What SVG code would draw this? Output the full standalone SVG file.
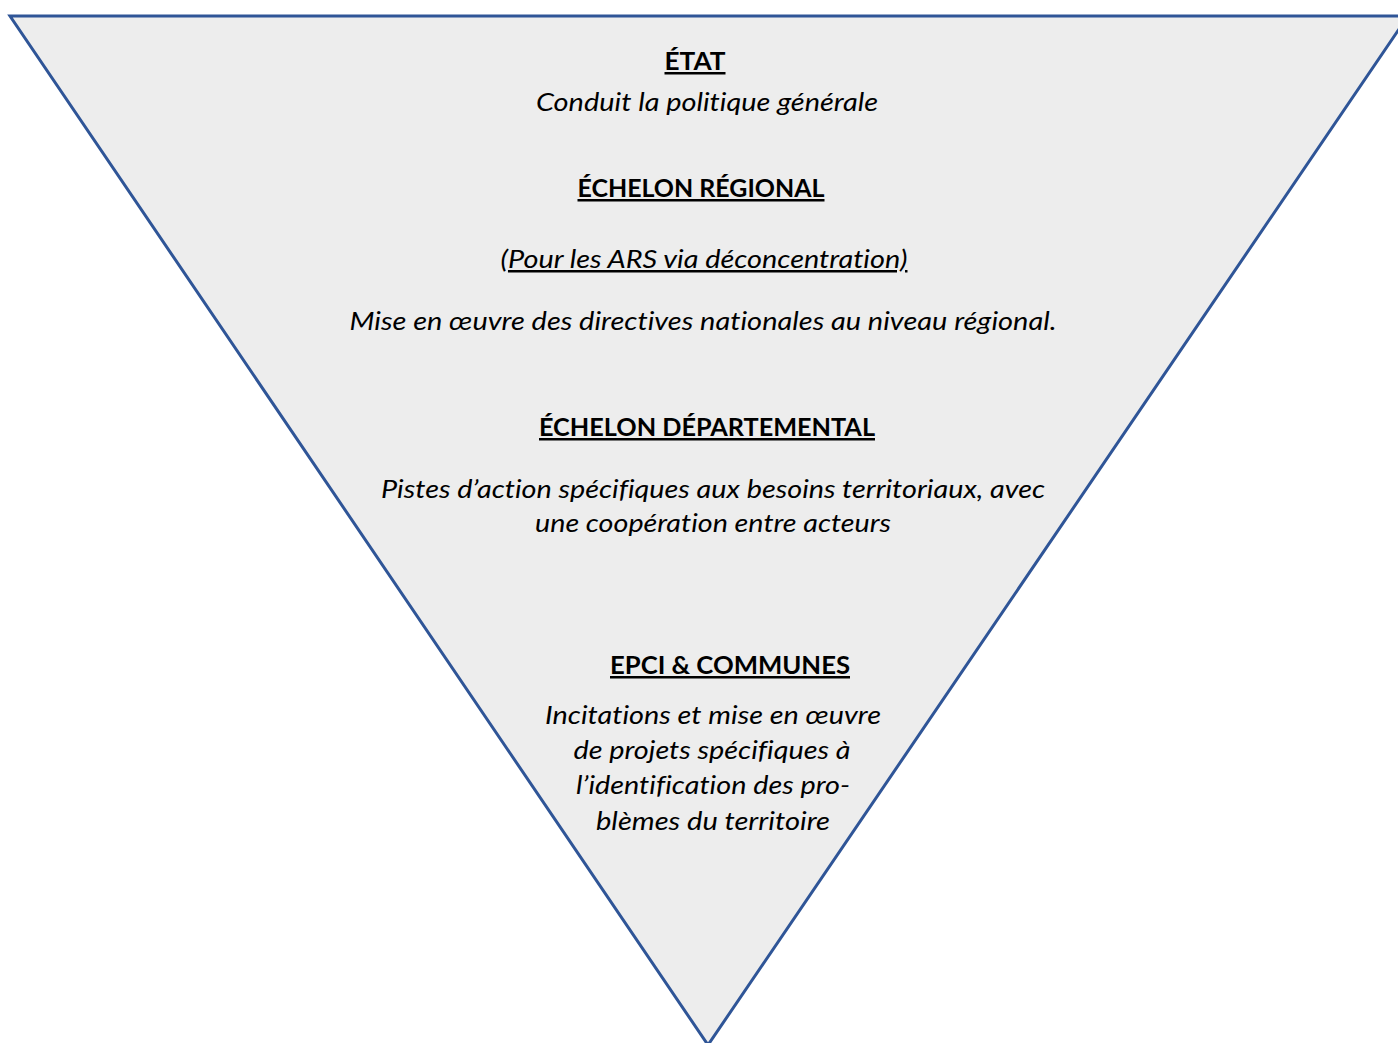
<svg xmlns="http://www.w3.org/2000/svg" width="1398" height="1043" viewBox="0 0 1398 1043">
<style>
.h{font-family:Lato,"Open Sans","Liberation Sans",sans-serif;font-weight:bold;font-size:25px;fill:#000;text-decoration:underline;font-variant-ligatures:none;font-feature-settings:"liga" 0,"clig" 0,"dlig" 0}
.t{font-family:Lato,"Open Sans","Liberation Sans",sans-serif;font-style:italic;font-size:25px;fill:#000;font-variant-ligatures:none;font-feature-settings:"liga" 0,"clig" 0,"dlig" 0}
.u{text-decoration:underline}
</style>
<rect width="1398" height="1043" fill="#FFFFFF"/>
<g id="pyramid">
<polygon points="10,16 1408,16 708,1045" fill="#EDEDED" stroke="#2F5597" stroke-width="3" stroke-linejoin="miter"/>
</g>
<g id="etat">
<text class="h" x="695" y="70" text-anchor="middle" textLength="61" lengthAdjust="spacingAndGlyphs">ÉTAT</text>
<text class="t" x="707" y="111" text-anchor="middle" textLength="342" lengthAdjust="spacingAndGlyphs">Conduit la politique générale</text>
</g>
<g id="regional">
<text class="h" x="701" y="197" text-anchor="middle" textLength="247" lengthAdjust="spacingAndGlyphs">ÉCHELON RÉGIONAL</text>
<text class="t" x="704" y="268" text-anchor="middle" textLength="407" lengthAdjust="spacingAndGlyphs">(<tspan class="u">Pour les ARS via déconcentration)</tspan></text>
<text class="t" x="703" y="330" text-anchor="middle" textLength="707" lengthAdjust="spacingAndGlyphs">Mise en œuvre des directives nationales au niveau régional.</text>
</g>
<g id="departemental">
<text class="h" x="707" y="436" text-anchor="middle" textLength="336" lengthAdjust="spacingAndGlyphs">ÉCHELON DÉPARTEMENTAL</text>
<text class="t" x="713" y="498" text-anchor="middle" textLength="664" lengthAdjust="spacingAndGlyphs">Pistes d’action spécifiques aux besoins territoriaux, avec</text>
<text class="t" x="713" y="532" text-anchor="middle" textLength="356" lengthAdjust="spacingAndGlyphs">une coopération entre acteurs</text>
</g>
<g id="communes">
<text class="h" x="730" y="674" text-anchor="middle" textLength="240" lengthAdjust="spacingAndGlyphs">EPCI &amp; COMMUNES</text>
<text class="t" x="713" y="724" text-anchor="middle" textLength="336" lengthAdjust="spacingAndGlyphs">Incitations et mise en œuvre</text>
<text class="t" x="712" y="759" text-anchor="middle" textLength="277" lengthAdjust="spacingAndGlyphs">de projets spécifiques à</text>
<text class="t" x="713" y="794" text-anchor="middle" textLength="274" lengthAdjust="spacingAndGlyphs">l’identification des pro-</text>
<text class="t" x="713" y="830" text-anchor="middle" textLength="234" lengthAdjust="spacingAndGlyphs">blèmes du territoire</text>
</g>
<g id="connectors"/>
</svg>
